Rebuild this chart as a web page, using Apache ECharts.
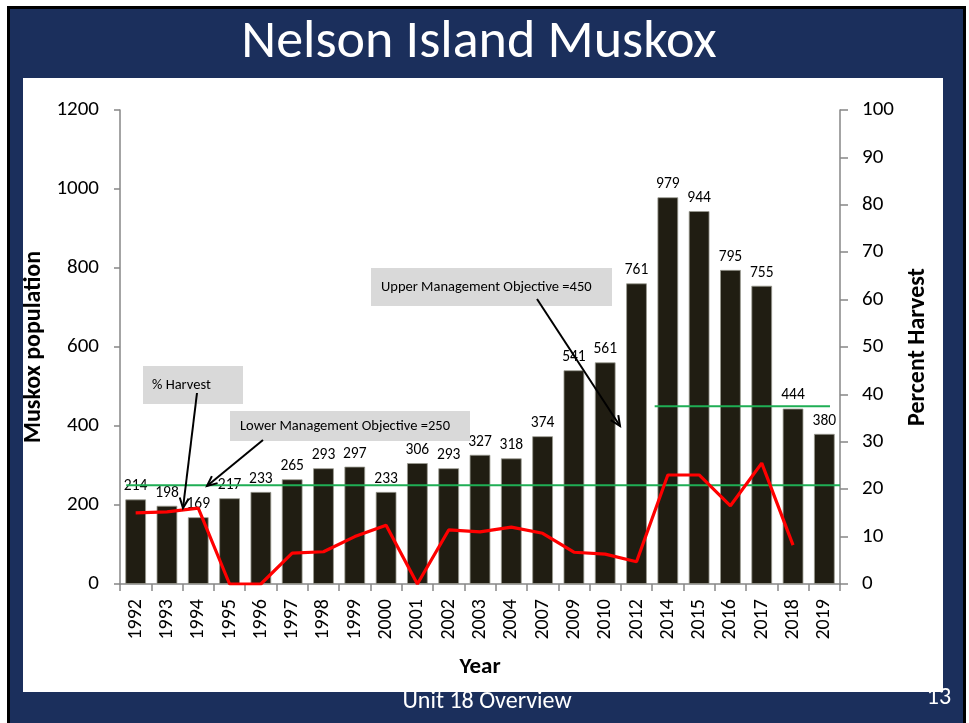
<!DOCTYPE html>
<html>
<head>
<meta charset="utf-8">
<script src="https://cdn.jsdelivr.net/npm/echarts@6/dist/echarts.min.js"></script>
<style>
html,body{margin:0;padding:0;background:#fff;}
#c{width:969px;height:723px;}
</style>
</head>
<body>
<div id="c"></div>
<script>
// ---- data ----
var years = ['1992','1993','1994','1995','1996','1997','1998','1999','2000','2001','2002','2003','2004','2007','2009','2010','2012','2014','2015','2016','2017','2018','2019'];
var population = [214,198,169,217,233,265,293,297,233,306,293,327,318,374,541,561,761,979,944,795,755,444,380];
var percentHarvest = [15,15.2,16,0,0,6.5,6.8,10,12.4,0,11.4,11,12,10.7,6.7,6.3,4.7,23,23,16.5,25.5,8.2,null];
var lowerObjective = 250;
var upperObjective = 450;
var lowerObjSpan = [0.2, 23];     // in category-slot units
var upperObjSpan = [17.08, 22.68];
var leftTicks = [0,200,400,600,800,1000,1200];
var rightTicks = [0,10,20,30,40,50,60,70,80,90,100];

var FONT = 'Carlito, Lato, "Open Sans", sans-serif';
var chart = echarts.init(document.getElementById('c'), null, {renderer:'canvas'});

function arrow(x1,y1,x2,y2){
  var ang = Math.atan2(y2-y1,x2-x1), L=10, W=4.5;
  var bx = x2 - L*Math.cos(ang), by = y2 - L*Math.sin(ang);
  var px = -Math.sin(ang), py = Math.cos(ang);
  return [
    {type:'line', z:100, shape:{x1:x1,y1:y1,x2:x2,y2:y2}, style:{stroke:'#000',lineWidth:2}},
    {type:'polyline', z:100, shape:{points:[[bx+px*W,by+py*W],[x2,y2],[bx-px*W,by-py*W]]}, style:{stroke:'#000',lineWidth:2,fill:null}}
  ];
}
function box(x,y,w,h,txt,tx){
  return [
    {type:'rect', z:90, shape:{x:x,y:y,width:w,height:h}, style:{fill:'#d9d9d9'}},
    {type:'text', z:91, x:tx, y:y+h/2, style:{text:txt, fill:'#000', font:'14.5px '+FONT, textVerticalAlign:'middle'}}
  ];
}

var graphics = [
  {type:'rect', z:-10, silent:true, shape:{x:7,y:6,width:959,height:717}, style:{fill:'#000'}},
  {type:'rect', z:-9, silent:true, shape:{x:10,y:9,width:953,height:714}, style:{fill:'#1b2f5c'}},
  {type:'rect', z:-8, silent:true, shape:{x:23,y:78,width:920,height:614}, style:{fill:'#fff'}},
  {type:'text', z:50, x:479, y:43, style:{text:'Nelson Island Muskox', fill:'#fff', font:'54px '+FONT, textAlign:'center', textVerticalAlign:'middle'}},
  {type:'text', z:50, x:487, y:702, style:{text:'Unit 18 Overview', fill:'#fff', font:'24px '+FONT, textAlign:'center', textVerticalAlign:'middle'}},
  {type:'text', z:50, x:939, y:698, style:{text:'13', fill:'#fff', font:'24px '+FONT, textAlign:'center', textVerticalAlign:'middle'}}
];
graphics = graphics
  .concat(box(143,366,100,38,'% Harvest',152))
  .concat(box(230,411,240,30,'Lower Management Objective =250',240))
  .concat(box(371,268,241,38,'Upper Management Objective =450',381))
  .concat(arrow(197,393,183,508))
  .concat(arrow(263,440,207,486))
  .concat(arrow(537,299,620,426));

var option = {
  animation:false,
  backgroundColor:'transparent',
  textStyle:{fontFamily:FONT},
  grid:{left:120, right:129, top:110, bottom:139, containLabel:false},
  xAxis:[{
    type:'category', data:years,
    name:'Year', nameLocation:'middle', nameGap:72,
    nameTextStyle:{fontSize:23, fontWeight:'bold', color:'#000', fontFamily:FONT},
    axisLine:{lineStyle:{color:'#868686', width:1.5}},
    axisTick:{show:true, length:7, lineStyle:{color:'#868686', width:1.5}},
    axisLabel:{rotate:90, fontSize:20, color:'#000', margin:15, fontFamily:FONT}
  },{
    type:'value', min:0, max:years.length, show:false
  }],
  yAxis:[{
    type:'value', min:leftTicks[0], max:leftTicks[leftTicks.length-1], interval:leftTicks[1]-leftTicks[0],
    name:'Muskox population', nameLocation:'middle', nameGap:66, nameRotate:90,
    nameTextStyle:{fontSize:24, fontWeight:'bold', color:'#000', fontFamily:FONT},
    axisLine:{show:true, lineStyle:{color:'#868686', width:1.5}},
    axisTick:{show:true, length:6, lineStyle:{color:'#868686', width:1.5}},
    axisLabel:{fontSize:21, color:'#000', margin:21, fontFamily:FONT, formatter:function(v){return String(v);}},
    splitLine:{show:false}
  },{
    type:'value', min:rightTicks[0], max:rightTicks[rightTicks.length-1], interval:rightTicks[1]-rightTicks[0],
    position:'right',
    name:'Percent Harvest', nameLocation:'middle', nameGap:66, nameRotate:90,
    nameTextStyle:{fontSize:24, fontWeight:'bold', color:'#000', fontFamily:FONT},
    axisLine:{show:true, lineStyle:{color:'#868686', width:1.5}},
    axisTick:{show:true, length:8, lineStyle:{color:'#868686', width:1.5}},
    axisLabel:{fontSize:21, color:'#000', margin:22, fontFamily:FONT},
    splitLine:{show:false}
  }],
  series:[{
    type:'bar', data:population, xAxisIndex:0, yAxisIndex:0,
    barCategoryGap:'34%',
    itemStyle:{color:'#201d12', borderColor:'#9a9a90', borderWidth:0.8},
    label:{show:true, position:'top', fontSize:15.5, color:'#000', distance:5, fontFamily:FONT},
    z:2
  },{
    type:'line', data:lowerObjSpan.map(function(x){return [x,lowerObjective];}),
    xAxisIndex:1, yAxisIndex:0, symbol:'none', silent:true,
    lineStyle:{color:'#1fae55', width:2}, z:4
  },{
    type:'line', data:upperObjSpan.map(function(x){return [x,upperObjective];}),
    xAxisIndex:1, yAxisIndex:0, symbol:'none', silent:true,
    lineStyle:{color:'#1fae55', width:2}, z:4
  },{
    type:'line', data:percentHarvest, xAxisIndex:0, yAxisIndex:1,
    symbol:'none', connectNulls:false,
    lineStyle:{color:'#ff0000', width:3.2}, z:5
  }],
  graphic:graphics
};
chart.setOption(option);
</script>
</body>
</html>
